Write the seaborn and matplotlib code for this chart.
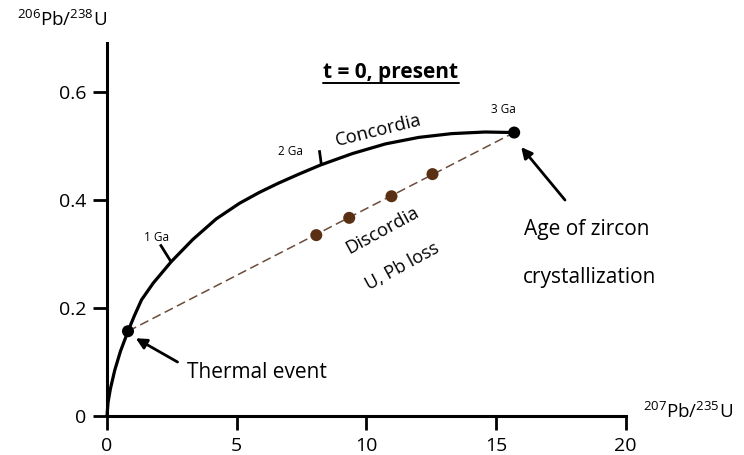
import seaborn as sns
import matplotlib.pyplot as plt
import numpy as np
import pandas as pd
from matplotlib.path import Path
from matplotlib.lines import Line2D

# concordia curve
concordia_x = [0.0, 0.04, 0.13, 0.3, 0.52, 0.81, 1.05, 1.33, 1.78, 2.48, 3.31, 4.21, 5.11,
               5.87, 6.6, 7.4, 8.24, 9.46, 10.74, 12.02, 13.29, 14.58, 15.7]
concordia_y = [0.0, 0.025, 0.05, 0.085, 0.12, 0.157, 0.185, 0.215, 0.246, 0.286, 0.327, 0.365,
               0.394, 0.414, 0.431, 0.448, 0.465, 0.486, 0.504, 0.516, 0.523, 0.526, 0.525]

# age ticks on the concordia
age_labels = ['1 Ga', '2 Ga', '3 Ga']
age_x = [2.48, 8.24, 15.7]
age_y = [0.286, 0.465, 0.525]

# discordia end points (thermal event, crystallization) and measured zircons
end_x = [0.81, 15.7]
end_y = [0.157, 0.525]
zircon_x = [8.07, 9.34, 10.97, 12.55]
zircon_y = [0.335, 0.367, 0.407, 0.448]

x_ticks = [0, 5, 10, 15, 20]
y_ticks = [0, 0.2, 0.4, 0.6]
y_tick_labels = ['0', '0.2', '0.4', '0.6']

sns.set_style('ticks', {'axes.edgecolor': 'black', 'text.color': 'black',
                        'xtick.color': 'black', 'ytick.color': 'black'})
plt.rcParams['font.family'] = ['Open Sans', 'DejaVu Sans']
plt.rcParams['mathtext.fontset'] = 'custom'
plt.rcParams['mathtext.rm'] = 'Open Sans'
plt.rcParams['mathtext.it'] = 'Open Sans'

fig = plt.figure(figsize=(7.44, 4.55), dpi=100)
ax = fig.add_axes([0.1438, 0.0857, 0.8410 - 0.1438, 0.9045 - 0.0857])

conc = pd.DataFrame({'x': concordia_x, 'y': concordia_y})
sns.lineplot(data=conc, x='x', y='y', sort=False, color='black', lw=2.3, ax=ax)

disc = pd.DataFrame({'x': end_x, 'y': end_y})
sns.lineplot(data=disc, x='x', y='y', sort=False, color='#6b4c3b', lw=1.1,
             linestyle=(0, (6, 3)), ax=ax)

zir = pd.DataFrame({'x': zircon_x, 'y': zircon_y})
sns.scatterplot(data=zir, x='x', y='y', color='#5a3014', s=75, edgecolor='none',
                zorder=5, ax=ax)
sns.scatterplot(data=disc, x='x', y='y', color='black', s=75, edgecolor='none',
                zorder=6, ax=ax)

# small age ticks sticking out of the curve
for ang, size, xx, yy in zip([122, 98], [26, 22], age_x[:2], age_y[:2]):
    a = np.deg2rad(ang)
    m = Path([[0, 0], [np.cos(a), np.sin(a)]])
    ax.plot(xx, yy, marker=m, markersize=size, color='black', mew=2)

ax.text(1.93, 0.331, age_labels[0], fontsize=8.5, ha='center', va='center')
ax.text(7.09, 0.489, age_labels[1], fontsize=8.5, ha='center', va='center')
ax.text(15.28, 0.568, age_labels[2], fontsize=8.5, ha='center', va='center')

ax.text(10.48, 0.528, 'Concordia', fontsize=13.3, rotation=14, ha='center', va='center')
ax.text(10.6, 0.344, 'Discordia', fontsize=13.3, rotation=28.5, ha='center', va='center')
ax.text(11.37, 0.276, 'U, Pb loss', fontsize=13, rotation=28.5, ha='center', va='center')
ax.text(18.5, 0.346, 'Age of zircon', fontsize=15, ha='center', va='center')
ax.text(18.6, 0.257, 'crystallization', fontsize=15, ha='center', va='center')
ax.text(3.1, 0.081, 'Thermal event', fontsize=15, ha='left', va='center')

title = ax.text(10.95, 0.637, 't = 0, present', fontsize=15, fontweight='bold',
                ha='center', va='center')

arrow = dict(arrowstyle='-|>', color='black', lw=2, mutation_scale=16,
             shrinkA=0, shrinkB=0)
ax.annotate('', xy=(1.11, 0.144), xytext=(2.72, 0.10), arrowprops=arrow)
ax.annotate('', xy=(15.97, 0.498), xytext=(17.66, 0.40), arrowprops=arrow)

ax.set_xlim(0, 20)
ax.set_ylim(0, 0.69)
ax.set_xticks(x_ticks)
ax.set_xticklabels([str(v) for v in x_ticks])
ax.set_yticks(y_ticks)
ax.set_yticklabels(y_tick_labels)
ax.set_xlabel('')
ax.set_ylabel('')
ax.tick_params(length=10, width=2, labelsize=14, direction='out', pad=5, colors='black')
for s in ['left', 'bottom']:
    ax.spines[s].set_linewidth(2.2)
sns.despine(ax=ax)
for c in ax.collections + ax.lines:
    c.set_clip_on(False)

fig.text(0.083, 0.956, r'$^{206}$Pb/$^{238}$U', fontsize=13.5, ha='center', va='center')
fig.text(0.925, 0.094, r'$^{207}$Pb/$^{235}$U', fontsize=13.5, ha='center', va='center')

# underline the title
fig.canvas.draw()
bb = title.get_window_extent().transformed(fig.transFigure.inverted())
fig.add_artist(Line2D([bb.x0, bb.x1], [bb.y0 - 0.002, bb.y0 - 0.002], color='black',
                      lw=1.4, transform=fig.transFigure))

fig.savefig('out.png', dpi=100)
